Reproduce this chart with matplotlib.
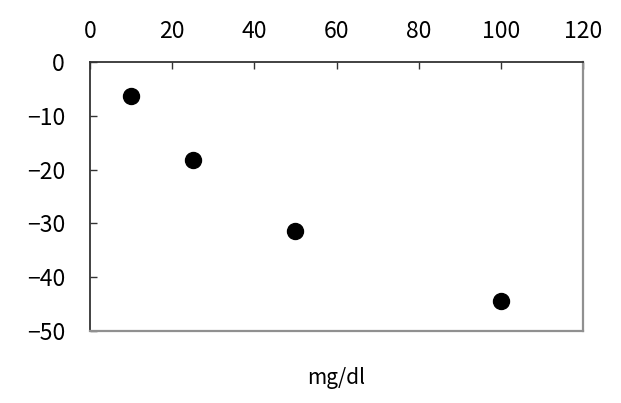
import matplotlib
matplotlib.use("Agg")
import matplotlib.pyplot as plt

plt.rcParams['font.family'] = ['Noto Sans CJK JP', 'DejaVu Sans']
plt.rcParams['axes.unicode_minus'] = True

# concentration (mg/dl) vs change
conc = [10, 25, 50, 100]
change = [-6.3, -18.2, -31.4, -44.4]
xticks = [0, 20, 40, 60, 80, 100, 120]
yticks = [0, -10, -20, -30, -40, -50]

fig = plt.figure(figsize=(6.21, 4.03), dpi=100)
ax = fig.add_axes([90 / 621, 1 - 331 / 403, 493 / 621, 269 / 403])

ax.plot(conc, change, 'o', color='black', markersize=11.5, linestyle='none')

ax.set_xlim(0, 120)
ax.set_ylim(-50, 0)
ax.set_xticks(xticks)
ax.set_yticks(yticks)
ax.set_yticklabels(['0' if v == 0 else '\u2212' + str(-v) for v in yticks])
ax.xaxis.tick_top()
ax.tick_params(axis='both', direction='in', length=5, width=1, labelsize=16.5, color='#333333')
ax.tick_params(axis='x', pad=14)
ax.tick_params(axis='y', pad=18)

for s in ax.spines.values():
    s.set_linewidth(1.3)
    s.set_color('#333333')
ax.spines['right'].set_color('#909090')
ax.spines['bottom'].set_color('#909090')
ax.spines['right'].set_linewidth(1.6)
ax.spines['bottom'].set_linewidth(1.6)

fig.text(336 / 621, 1 - 378 / 403, 'mg/dl', ha='center', va='center', fontsize=15)

fig.savefig('out.png', dpi=100)
